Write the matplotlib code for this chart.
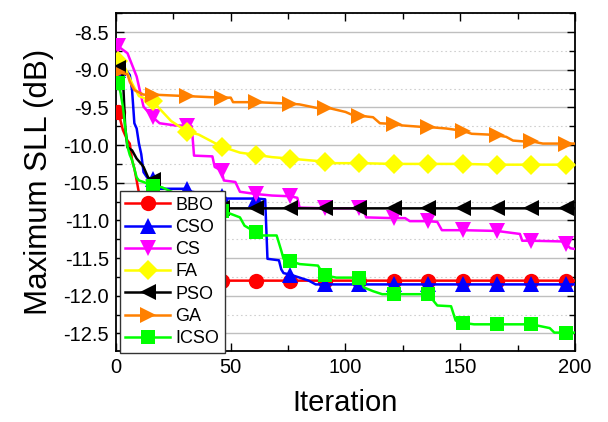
import numpy as np
import matplotlib
matplotlib.use("Agg")
import matplotlib.pyplot as plt
from matplotlib.ticker import MultipleLocator

plt.rcParams['font.family'] = ['Liberation Sans', 'DejaVu Sans']
plt.rcParams['axes.unicode_minus'] = False

mark_iters = [1, 16, 31, 46, 61, 76, 91, 106, 121, 136, 151, 166, 181, 196]

bbo_x = [1, 3, 5, 6, 7, 8, 9, 11, 13, 15, 16, 18, 21, 31, 46, 61, 76, 91, 106, 121, 136, 151, 166, 181, 196, 200]
bbo_y = [-9.56, -9.80, -9.94, -9.98, -10.2, -10.31, -10.47, -10.8, -11.2, -11.5, -11.6, -11.7, -11.8, -11.8, -11.8,
         -11.8, -11.8, -11.8, -11.8, -11.8, -11.8, -11.8, -11.8, -11.8, -11.8, -11.8]

cso_x = [1, 5, 6, 7, 8, 9, 10, 11, 12, 14, 16, 19, 31, 33, 46, 47, 61, 65, 66, 71, 72, 73, 76, 80, 84, 87,
         91, 106, 121, 136, 151, 166, 181, 196, 200]
cso_y = [-9.0, -9.03, -9.07, -9.27, -9.71, -9.78, -9.98, -10.12, -10.36, -10.45, -10.45, -10.58, -10.58, -10.62,
         -10.68, -10.71, -10.71, -10.72, -11.51, -11.53, -11.65, -11.70, -11.72, -11.76, -11.80, -11.85,
         -11.85, -11.85, -11.85, -11.85, -11.85, -11.85, -11.85, -11.85, -11.85]

cs_x = [1, 5, 9, 12, 16, 19, 26, 31, 33, 34, 42, 43, 46, 47, 52, 54, 61, 68, 76, 79, 80, 91, 106, 108, 109,
        121, 126, 128, 136, 140, 142, 151, 166, 171, 176, 177, 181, 195, 196, 198, 200]
cs_y = [-8.69, -8.78, -9.09, -9.49, -9.63, -9.71, -9.74, -9.74, -9.75, -10.14, -10.15, -10.29, -10.34, -10.47,
        -10.49, -10.62, -10.65, -10.67, -10.68, -10.70, -10.83, -10.84, -10.84, -10.86, -10.96,
        -10.97, -10.97, -11.01, -11.01, -11.02, -11.13, -11.13, -11.14, -11.16, -11.18, -11.27, -11.27,
        -11.28, -11.31, -11.37, -11.38]

fa_x = [1, 4, 7, 10, 16, 20, 24, 28, 31, 36, 41, 46, 54, 61, 68, 76, 91, 94, 106, 121, 136, 151, 166, 181, 196, 200]
fa_y = [-8.88, -8.98, -9.18, -9.35, -9.42, -9.55, -9.68, -9.76, -9.82, -9.86, -9.94, -10.02, -10.10, -10.13,
        -10.16, -10.18, -10.22, -10.24, -10.24, -10.25, -10.25, -10.25, -10.26, -10.26, -10.26, -10.26]

pso_x = [1, 2, 3, 4, 5, 7, 9, 11, 12, 14, 16, 18, 21, 31, 46, 61, 76, 91, 106, 121, 136, 151, 166, 181, 196, 200]
pso_y = [-8.98, -9.0, -9.09, -9.76, -10.03, -10.07, -10.18, -10.25, -10.29, -10.43, -10.47, -10.6, -10.84,
         -10.84, -10.84, -10.84, -10.84, -10.84, -10.84, -10.84, -10.84, -10.84, -10.84, -10.84, -10.84, -10.84]

ga_x = [1, 5, 6, 8, 12, 16, 31, 46, 50, 51, 61, 76, 80, 88, 91, 93, 100, 103, 106, 112, 115, 121, 125, 134,
        136, 144, 151, 155, 162, 166, 170, 173, 177, 181, 186, 196, 200]
ga_y = [-9.03, -9.06, -9.16, -9.27, -9.33, -9.33, -9.35, -9.37, -9.37, -9.43, -9.43, -9.45, -9.46, -9.51,
        -9.51, -9.51, -9.56, -9.60, -9.61, -9.63, -9.71, -9.72, -9.74, -9.76, -9.76, -9.78, -9.81, -9.85,
        -9.86, -9.87, -9.89, -9.94, -9.95, -9.95, -9.98, -9.98, -9.98]

icso_x = [1, 2, 3, 4, 5, 6, 7, 9, 10, 12, 16, 20, 30, 40, 46, 48, 54, 56, 61, 64, 70, 72, 73, 76, 80, 88,
          90, 91, 96, 106, 108, 112, 116, 121, 136, 140, 146, 148, 151, 156, 166, 181, 189, 191, 196, 200]
icso_y = [-9.18, -9.31, -9.49, -9.76, -10.02, -10.13, -10.2, -10.43, -10.47, -10.49, -10.54, -10.56, -10.7,
          -10.82, -10.87, -10.89, -10.96, -11.07, -11.16, -11.2, -11.2, -11.4, -11.51, -11.54, -11.58,
          -11.6, -11.70, -11.73, -11.76, -11.76, -11.89, -11.94, -11.98, -11.98, -11.98, -12.13, -12.14,
          -12.33, -12.36, -12.38, -12.38, -12.38, -12.43, -12.49, -12.49, -12.49]

series = [
    ("BBO", bbo_x, bbo_y, "#ff0000", "o"),
    ("CSO", cso_x, cso_y, "#0000ff", "^"),
    ("CS", cs_x, cs_y, "#ff00ff", "v"),
    ("FA", fa_x, fa_y, "#ffff00", "D"),
    ("PSO", pso_x, pso_y, "#000000", "<"),
    ("GA", ga_x, ga_y, "#ff8000", ">"),
    ("ICSO", icso_x, icso_y, "#00ff00", "s"),
]

fig = plt.figure(figsize=(6.08, 4.22), dpi=100)
ax = fig.add_axes([0.1908, 0.169, 0.7549, 0.7995])

msizes = {"o": 11, "^": 11, "v": 11, "D": 10.5, "<": 11, ">": 11, "s": 9.5}
for name, xs, ys, col, mk in series:
    xs = np.asarray(xs)
    idx = list(np.nonzero(np.isin(xs, mark_iters))[0])
    ax.plot(xs, ys, color=col, lw=1.8, marker=mk, markersize=msizes[mk],
            markevery=idx, markeredgewidth=0, label=name, zorder=3)

ax.set_xlim(0, 200)
ax.set_ylim(-12.73, -8.25)
ax.xaxis.set_major_locator(MultipleLocator(50))
ax.xaxis.set_minor_locator(MultipleLocator(25))
ax.yaxis.set_minor_locator(MultipleLocator(0.25))
ytick_vals = np.arange(-12.5, -8.4, 0.5)
ax.set_yticks(ytick_vals)
ax.set_yticklabels([f"{v:.1f}" for v in ytick_vals])

ax.grid(which='major', axis='y', color='#bfbfbf', lw=1.0, ls='-', zorder=0)
ax.grid(which='minor', axis='y', color='#d0d0d0', lw=0.8, ls=(0, (1.5, 2.5)), zorder=0)
ax.set_axisbelow(True)

ax.tick_params(which='both', direction='in', top=True, right=True, labelsize=14.5, width=1.0)
ax.tick_params(which='major', length=6, pad=5)
ax.tick_params(which='minor', length=4)
for s in ax.spines.values():
    s.set_linewidth(1.3)

ax.set_xlabel("Iteration", fontsize=21, labelpad=9)
ax.set_ylabel("Maximum SLL (dB)", fontsize=22.5, labelpad=7)

leg = ax.legend(loc='upper left', bbox_to_anchor=(0.0, 0.483), fontsize=13, frameon=True,
                fancybox=False, framealpha=1, edgecolor='#333333', handlelength=2.5,
                labelspacing=0.29, borderpad=0.3, handletextpad=0.3, borderaxespad=0.2)
leg.get_frame().set_linewidth(1.0)
leg.set_zorder(5)

fig.savefig("out.png", dpi=100)
